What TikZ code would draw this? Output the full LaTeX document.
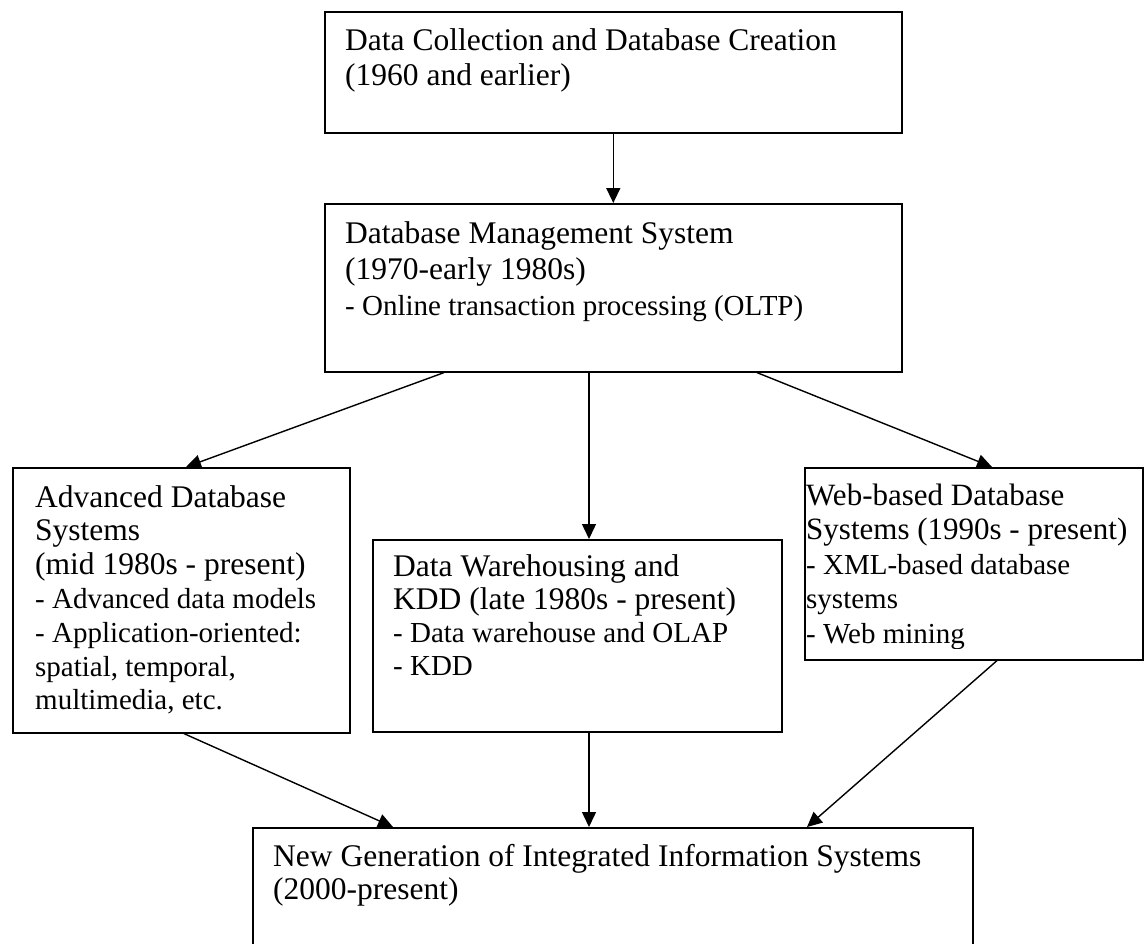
\documentclass[tikz,border=0pt]{standalone}
\usepackage{fontspec}
\setmainfont{Liberation Serif}
\usetikzlibrary{arrows.meta}

% a block of text lines stacked with a fixed baseline distance
\newcommand\textstack[2]{\vtop{\baselineskip=#1\relax #2}}
\newcommand\textrow[1]{\hbox{#1}}
% smaller type for the list items
\newcommand\itemfont{\fontsize{29}{34}\selectfont}
\newcommand\itemrow[1]{\hbox{\itemfont #1}}

\begin{document}
\begin{tikzpicture}[x=1pt,y=-1pt,
  box/.style={draw, line width=1.6pt, inner sep=0pt, anchor=north west},
  label/.style={anchor=base west, inner sep=0pt, font=\fontsize{31.5}{34}\selectfont},
  link/.style={-{Triangle[length=15pt,width=14pt]}, line width=1.4pt}]
\clip (0,0) rectangle (1148,943);

% boxes
\node[box, minimum width=577pt, minimum height=121pt] (b1) at (324,11) {};
\node[box, minimum width=577pt, minimum height=168pt] (b2) at (324,203) {};
\node[box, minimum width=337pt, minimum height=265pt] (b3) at (12,467) {};
\node[box, minimum width=409pt, minimum height=192pt] (b4) at (372,539) {};
\node[box, minimum width=338pt, minimum height=192pt] (b5) at (804,467) {};
\node[box, minimum width=720pt, minimum height=200pt] (b6) at (252,827) {};

% texts
\node[label] (t1) at (345,50) {\textstack{35pt}{%
  \textrow{Data Collection and Database Creation}
  \textrow{(1960 and earlier)}}};
\node[label] (t2) at (345,243) {\textstack{36pt}{%
  \textrow{Database Management System}
  \textrow{(1970-early 1980s)}
  \itemrow{- Online transaction processing (OLTP)}}};
\node[label] (t3) at (35,507) {\textstack{33.8pt}{%
  \textrow{Advanced Database}
  \textrow{Systems}
  \textrow{(mid 1980s - present)}
  \itemrow{- Advanced data models}
  \itemrow{- Application-oriented:}
  \itemrow{spatial, temporal,}
  \itemrow{multimedia, etc.}}};
\node[label] (t4) at (393,576) {\textstack{33pt}{%
  \textrow{Data Warehousing and}
  \textrow{KDD (late 1980s - present)}
  \itemrow{- Data warehouse and OLAP}
  \itemrow{- KDD}}};
\begin{scope}
  \clip (b5.north west) rectangle ([xshift=10pt,yshift=12pt]b5.south east);
  \node[label, font=\fontsize{31}{34}\selectfont] (t5) at (806,505) {\textstack{34.5pt}{%
    \textrow{Web-based Database}
    \textrow{Systems (1990s - present)}
    \itemrow{- XML-based database}
    \itemrow{systems}
    \itemrow{- Web mining}}};
\end{scope}
\node[label] (t6) at (273,866) {\textstack{33pt}{%
  \textrow{New Generation of Integrated Information Systems}
  \textrow{(2000-present)}}};

% connectors
\draw[link] (b1.south) -- (b2.north);
\draw[link] ([xshift=120pt]b2.south west) -- ([xshift=174pt]b3.north west);
\draw[link] ([xshift=265pt]b2.south west) -- ([xshift=217pt]b4.north west);
\draw[link] ([xshift=433pt]b2.south west) -- ([xshift=188pt]b5.north west);
\draw[link] ([xshift=172pt]b3.south west) -- ([xshift=141pt]b6.north west);
\draw[link] ([xshift=217pt]b4.south west) -- ([xshift=337pt]b6.north west);
\draw[link] ([xshift=193pt]b5.south west) -- ([xshift=555pt]b6.north west);
\end{tikzpicture}
\end{document}
